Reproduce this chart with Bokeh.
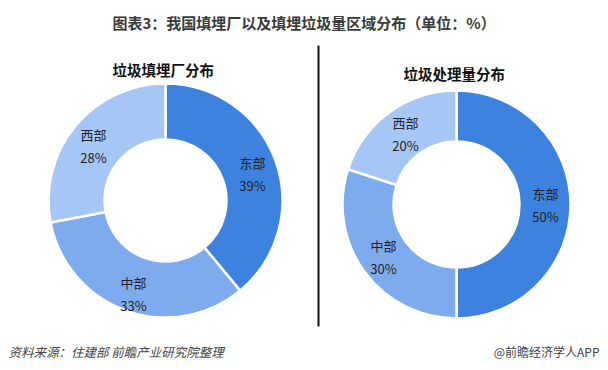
import numpy as np
from bokeh.plotting import figure
from bokeh.models import Range1d, ColumnDataSource
from bokeh.core.properties import value
from bokeh.embed import file_html
from bokeh.resources import INLINE

# ---- data ----
regions = ["东部", "中部", "西部"]
plant_share = [39, 33, 28]      # 垃圾填埋厂分布
volume_share = [50, 30, 20]     # 垃圾处理量分布
colors = ["#3d82de", "#7eaaee", "#a6c6f5"]

title = "图表3：我国填埋厂以及填埋垃圾量区域分布（单位：%）"
sub_left = "垃圾填埋厂分布"
sub_right = "垃圾处理量分布"
source_note = "资料来源：住建部   前瞻产业研究院整理"
brand = "@前瞻经济学人APP"

FONT = value("Noto Sans CJK SC")
H = 370  # image height; data y = H - image y

p = figure(width=608, height=370, output_backend="svg", toolbar_location=None,
           x_range=Range1d(0, 608), y_range=Range1d(0, 370),
           min_border=0, outline_line_color=None)
p.axis.visible = False
p.grid.visible = False
p.background_fill_color = "white"


def donut(cx, cy, r_out, r_in, vals, label_pos):
    v = np.array(vals, dtype=float)
    frac = v / v.sum()
    cum = np.concatenate([[0], np.cumsum(frac)])
    start = np.pi / 2 - 2 * np.pi * cum[:-1]
    end = np.pi / 2 - 2 * np.pi * cum[1:]
    src = ColumnDataSource(dict(x=[cx] * len(v), y=[H - cy] * len(v),
                                start=start, end=end, color=colors))
    p.annular_wedge(x="x", y="y", inner_radius=r_in, outer_radius=r_out,
                    inner_radius_units="screen", outer_radius_units="screen",
                    start_angle="start", end_angle="end", direction="clock",
                    fill_color="color", line_color="white", line_width=2.5,
                    source=src)
    lx = [q[0] for q in label_pos]
    ly = [q[1] for q in label_pos]
    p.text(x=lx, y=[H - y for y in ly], text=regions,
           text_font=FONT, text_font_size="13px", text_color="#222222",
           text_align="center", text_baseline="middle")
    p.text(x=lx, y=[H - y - 23 for y in ly], text=[f"{int(a)}%" for a in vals],
           text_font=FONT, text_font_size="13px", text_color="#222222",
           text_align="center", text_baseline="middle")


donut(165, 200, 117, 61, plant_share, [(252, 162), (133, 282), (93, 134)])
donut(456, 204, 114, 63, volume_share, [(545, 193), (383, 245), (405, 122)])

# titles
p.text(x=[112], y=[H - 22], text=[title], text_font=FONT, text_font_size="15px",
       text_font_style="bold", text_color="#3a3a3a", text_align="left",
       text_baseline="middle")
p.text(x=[112, 403], y=[H - 69, H - 73], text=[sub_left, sub_right], text_font=FONT,
       text_font_size="14.5px", text_font_style="bold", text_color="#111111",
       text_align="left", text_baseline="middle")

# divider
p.segment(x0=[318], y0=[H - 45], x1=[318], y1=[H - 326], line_color="#111111",
          line_width=2)

# footer
p.text(x=[8], y=[H - 351], text=[source_note], text_font=FONT, text_font_size="12.5px",
       text_font_style="italic", text_color="#444444", text_align="left",
       text_baseline="middle")
p.text(x=[599], y=[H - 351], text=[brand], text_font=FONT, text_font_size="12px",
       text_color="#444444", text_align="right", text_baseline="middle")

open("out.html", "w").write(file_html(p, INLINE))
